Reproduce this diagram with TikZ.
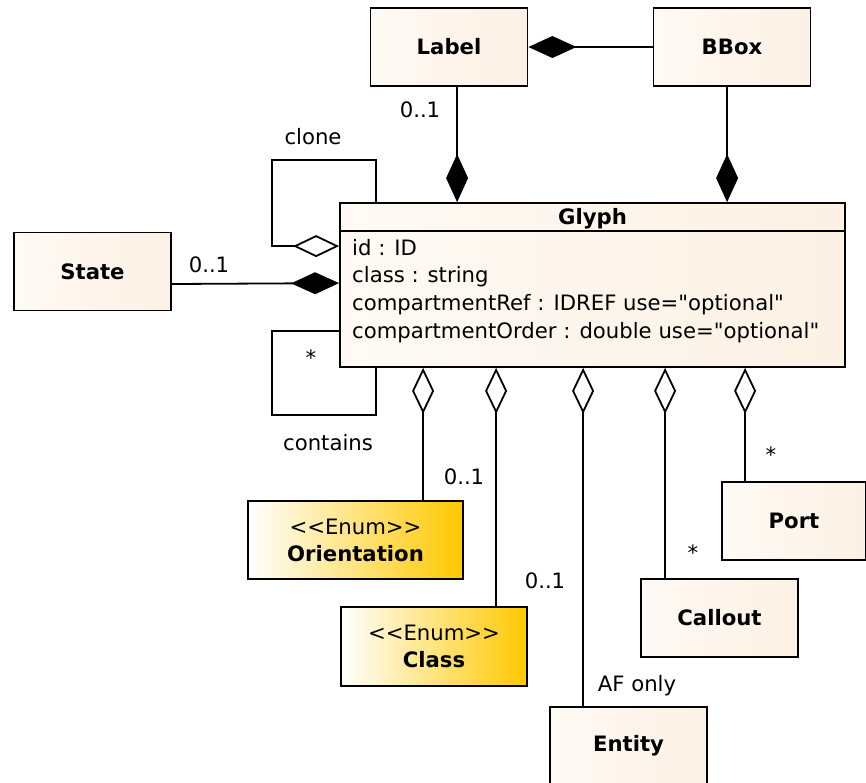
\documentclass[tikz,border=0pt]{standalone}
\usepackage{fontspec}
\setmainfont{DejaVu Sans}
\usetikzlibrary{arrows.meta,calc}
\definecolor{boxlight}{HTML}{FFFAF5}
\definecolor{boxfill}{HTML}{FCF1E4}
\definecolor{enumgold}{HTML}{FFC800}

\tikzset{
  txt/.style={font=\fontsize{21.2}{25}\selectfont, inner sep=0pt},
  cls/.style={draw, line width=1.8pt, minimum width=157pt, minimum height=78pt,
              left color=boxlight, right color=boxfill,
              font=\bfseries\fontsize{21.2}{25}\selectfont, inner sep=0pt},
  enumbox/.style={draw, line width=1.8pt, left color=white, right color=enumgold,
              align=center, inner sep=0pt, font=\fontsize{21.2}{27}\selectfont},
  link/.style={line width=1.8pt},
  comp/.style={link, -{Diamond[length=48pt,width=22pt]}},
  aggr/.style={link, -{Diamond[open,length=46pt,width=22pt,fill=white]}},
}

\begin{document}
\begin{tikzpicture}[x=1pt,y=-1pt]
  \useasboundingbox (0,0) rectangle (866,782);

  % classes
  \node[cls] (label)   at (449,47)    {Label};
  \node[cls] (bbox)    at (732,47)    {BBox};
  \node[cls] (state)   at (92.5,271.5){State};
  \node[cls, minimum width=144pt] (port) at (794,521) {Port};
  \node[cls] (callout) at (719.5,618) {Callout};
  \node[cls] (entity)  at (628.5,746) {Entity};

  % enumerations
  \node[enumbox, minimum width=215pt, minimum height=78pt] (orient) at (355.5,540)
      {<{}<Enum>{}>\\\textbf{Orientation}};
  \node[enumbox, minimum width=186pt, minimum height=79pt] (klass) at (434,646.5)
      {<{}<Enum>{}>\\\textbf{Class}};

  % Glyph class with header and attribute compartment
  \node[draw, line width=1.8pt, minimum width=505pt, minimum height=164pt,
        left color=boxlight, right color=boxfill, inner sep=0pt] (glyph) at (592.5,285) {};
  \draw[link] ($(glyph.north west)+(0,29)$) -- ($(glyph.north east)+(0,29)$);
  \node[txt, font=\bfseries\fontsize{21.2}{25}\selectfont] (gname) at ($(glyph.north)+(0,17)$) {Glyph};
  \node[txt, anchor=west] (a1) at (352,248) {id : ID};
  \node[txt, anchor=west] (a2) at (352,277) {class : string};
  \node[txt, anchor=west] (a3) at (352,305) {compartmentRef : IDREF use=\textquotedbl optional\textquotedbl};
  \node[txt, anchor=west] (a4) at (352,333) {compartmentOrder : double use=\textquotedbl optional\textquotedbl};

  % attachment points on the Glyph box
  \coordinate (gl) at ($(glyph.north west)+(118,0)$);
  \coordinate (gb) at ($(glyph.north west)+(388,0)$);
  \coordinate (g1) at ($(glyph.south west)+(84,0)$);
  \coordinate (g2) at ($(glyph.south west)+(157,0)$);
  \coordinate (g3) at ($(glyph.south west)+(244,0)$);
  \coordinate (g4) at ($(glyph.south west)+(326,0)$);
  \coordinate (g5) at ($(glyph.south west)+(406,0)$);
  \coordinate (cl) at (272,160);
  \coordinate (co) at (272,415);

  % compositions
  \draw[comp] (bbox.west) -- (label.east);
  \draw[comp] (label.south -| gl) -- (gl);
  \draw[comp] (bbox.south -| gb) -- (gb);
  \draw[comp] ($(state.east)+(0,12.5)$) -- ($(glyph.north west)+(0,81)$);

  % self associations
  \draw[aggr] ($(glyph.north west)+(37,0)$) |- (cl) |- ($(glyph.north west)+(0,44)$);
  \draw[link] ($(glyph.south west)+(37,0)$) |- (co) |- ($(glyph.north west)+(0,129)$);

  % aggregations
  \draw[aggr] (orient.north -| g1) -- (g1);
  \draw[aggr] (klass.north -| g2) -- (g2);
  \draw[aggr] (entity.north -| g3) -- (g3);
  \draw[aggr] (callout.north -| g4) -- (g4);
  \draw[aggr] (port.north -| g5) -- (g5);

  % multiplicities and role names
  \node[txt] (m1) at (420,110) {0..1};
  \node[txt] (m2) at (313,137) {clone};
  \node[txt] (m3) at (209,265) {0..1};
  \node[txt] (m4) at (311,358) {*};
  \node[txt] (m5) at (328,443) {contains};
  \node[txt] (m6) at (464,477) {0..1};
  \node[txt] (m7) at (545,581) {0..1};
  \node[txt] (m8) at (637,686) {AF only};
  \node[txt] (m9) at (693,553) {*};
  \node[txt] (m10) at (771,455) {*};
\end{tikzpicture}
\end{document}
